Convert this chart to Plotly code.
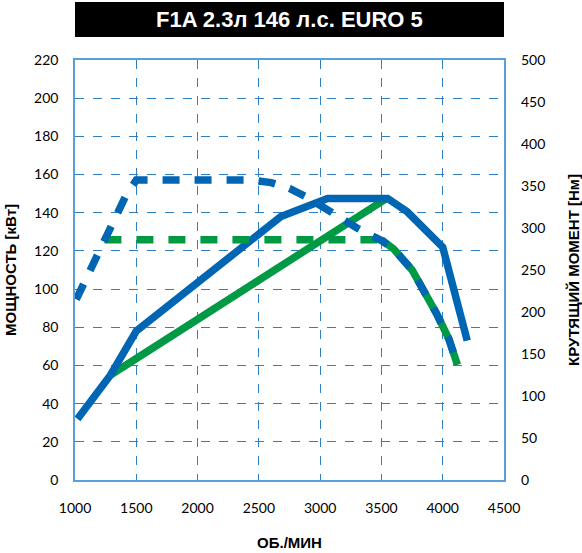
import plotly.graph_objects as go

# power curves (kW, left axis)
rpm_power_blue = [1020, 1290, 1500, 2680, 3060, 3550, 3710, 4000, 4200]
power_blue = [32, 55, 78, 138, 147.5, 147.5, 140.5, 122, 73]
rpm_power_green = [1290, 3530]
power_green = [55, 147]

# torque curves (Nm, right axis)
rpm_torque_blue = [1010, 1300, 1420, 1500, 2450, 2600, 2750, 2900, 3100, 3300,
                   3500, 3600, 3750, 3850, 3950, 4050, 4120]
torque_blue = [215, 305, 340, 357, 357, 354, 347, 336, 318, 300,
               285, 275, 250, 226, 198, 168, 137]
rpm_torque_green = [1240, 3500, 3600, 3750, 3850, 3950, 4050, 4120]
torque_green = [286, 286, 275, 250, 226, 198, 168, 137]

x_ticks = [1000, 1500, 2000, 2500, 3000, 3500, 4000, 4500]
power_ticks = list(range(0, 221, 20))
torque_ticks = list(range(0, 501, 50))

BLUE = "#0066b3"
GREEN = "#009a44"
GRID = "#2f7fc4"
SPINE = "#5a9fd8"

fig = go.Figure()

# green torque: flat part dashed, falling part hidden under the blue dashes
fig.add_trace(go.Scatter(x=rpm_torque_green[:2], y=torque_green[:2], yaxis="y2", mode="lines",
                         line=dict(color=GREEN, width=7.5, dash="17px,15px")))
fig.add_trace(go.Scatter(x=rpm_torque_green[1:], y=torque_green[1:], yaxis="y2", mode="lines",
                         line=dict(color=GREEN, width=7.5)))
fig.add_trace(go.Scatter(x=rpm_torque_blue, y=torque_blue, yaxis="y2", mode="lines",
                         line=dict(color=BLUE, width=7.5, dash="17px,15px")))
fig.add_trace(go.Scatter(x=rpm_power_green, y=power_green, mode="lines",
                         line=dict(color=GREEN, width=7.5)))
fig.add_trace(go.Scatter(x=rpm_power_blue, y=power_blue, mode="lines",
                         line=dict(color=BLUE, width=7.5)))

tick_font = dict(family="Lato", size=14, color="black")
title_font = dict(family="Liberation Sans", size=15, color="black", weight="bold")

fig.update_layout(
    width=582, height=553,
    margin=dict(l=75, r=78, t=60, b=73),
    plot_bgcolor="white", paper_bgcolor="white",
    showlegend=False,
    xaxis=dict(range=[1000, 4500], tickvals=x_ticks, tickfont=tick_font,
               showgrid=True, gridcolor=GRID, griddash="dash", gridwidth=1,
               showline=True, linecolor=SPINE, linewidth=1.5, mirror=True,
               zeroline=False, ticks="", ticklabelstandoff=14, automargin=False,
               title=dict(text="ОБ./МИН", font=title_font, standoff=23)),
    yaxis=dict(range=[0, 220], tickvals=power_ticks, tickfont=tick_font,
               showgrid=True, gridcolor=GRID, griddash="dash", gridwidth=1,
               showline=True, linecolor=SPINE, linewidth=1.5, mirror=True,
               zeroline=False, ticks="", ticklabelstandoff=12, automargin=False,
               title=dict(text="МОЩНОСТЬ [кВт]", font=title_font, standoff=14)),
    yaxis2=dict(range=[0, 500], tickvals=torque_ticks, tickfont=tick_font,
                overlaying="y", side="right", showgrid=False, zeroline=False,
                showline=False, ticks="", ticklabelstandoff=16, automargin=False,
                title=dict(text="КРУТЯЩИЙ МОМЕНТ [Нм]", font=title_font, standoff=26)),
)

# black title bar above the plot
fig.add_shape(type="rect", xref="paper", yref="paper", x0=0, x1=1, y0=1.055, y1=1.138,
              fillcolor="black", line=dict(width=0), layer="above")
fig.add_annotation(text="F1A 2.3л 146 л.с. EURO 5", xref="paper", yref="paper",
                   x=0.5, y=1.0965, showarrow=False, xanchor="center", yanchor="middle",
                   font=dict(family="Liberation Sans", size=22, color="white", weight="bold"))

# drop the default 8px body margin so the figure fills the window
fig.write_html("out.html", config={"displayModeBar": False},
               post_script="document.body.style.margin = '0';")
